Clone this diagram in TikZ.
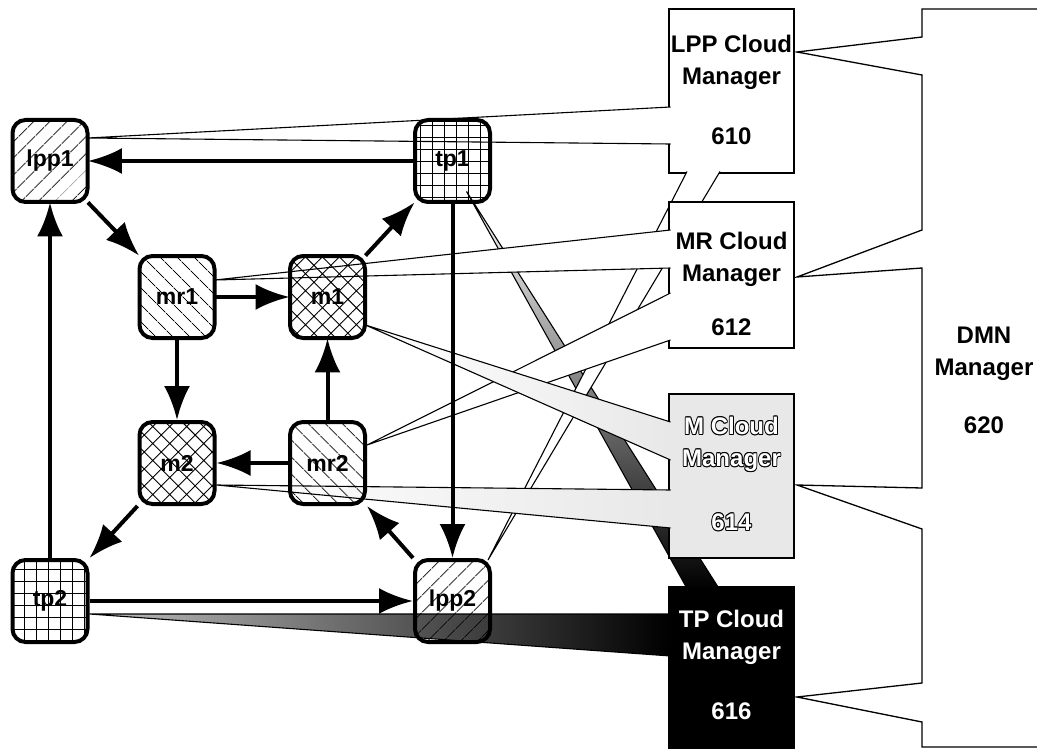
\documentclass[tikz,border=0pt]{standalone}
\usepackage{fontspec}
\setmainfont{Liberation Sans}
\usepackage{tikz}
\usetikzlibrary{arrows.meta}
\usetikzlibrary{patterns.meta}
\usetikzlibrary{calc}

\pgfdeclarelayer{front}
\pgfsetlayers{main,front}

% white letters with a black rim
\newcommand{\hollow}[1]{%
  \leavevmode
  \rlap{\hspace{-0.9pt}#1}\rlap{\hspace{0.9pt}#1}%
  \rlap{\raisebox{0.9pt}{#1}}\rlap{\raisebox{-0.9pt}{#1}}%
  \rlap{\hspace{-0.65pt}\raisebox{0.65pt}{#1}}\rlap{\hspace{0.65pt}\raisebox{0.65pt}{#1}}%
  \rlap{\hspace{-0.65pt}\raisebox{-0.65pt}{#1}}\rlap{\hspace{0.65pt}\raisebox{-0.65pt}{#1}}%
  \textcolor{white}{#1}}

\tikzset{
  vnode/.style={draw, line width=4pt, rounded corners=13pt,
                minimum width=75pt, minimum height=82pt, inner sep=0pt,
                font=\bfseries\fontsize{23}{23}\selectfont},
  lpphatch/.style={pattern={Lines[angle=45,distance=13pt,line width=0.9pt]}},
  mrhatch/.style={pattern={Lines[angle=-45,distance=13pt,line width=0.9pt]}},
  mhatch/.style={pattern={Hatch[angle=45,distance=12pt,line width=0.9pt]}},
  tphatch/.style={pattern={Hatch[angle=0,distance=12pt,line width=0.9pt]}},
  mgr/.style={draw, line width=1.3pt, minimum width=125pt,
              inner sep=0pt, outer sep=0pt},
  mgrtext/.style={align=center, inner sep=0pt,
                  font=\bfseries\fontsize{24}{32}\selectfont},
  band/.style={line width=1.1pt, line join=miter},
  flow/.style={line width=4pt, ->},
}

\begin{document}
\begin{tikzpicture}[
        >={Latex[length=34pt,width=26pt]}, thick,
        x=1pt, y=-1pt,
    ]
    \useasboundingbox (0,0) rectangle (1037,749);

    \begin{pgfonlayer}{front}
    \node[vnode, lpphatch] (lpp1) at (50,161) {lpp1};
    \node[vnode, tphatch] (tp1) at (452.5,161) {tp1};
    \node[vnode, mrhatch] (mr1) at (177,297) {mr1};
    \node[vnode, mhatch] (m1) at (327.5,297) {m1};
    \node[vnode, mhatch] (m2) at (177,463) {m2};
    \node[vnode, mrhatch] (mr2) at (327.5,463) {mr2};
    \node[vnode, tphatch] (tp2) at (50,601) {tp2};
    \node[vnode, lpphatch] (lpp2) at (452.5,601) {lpp2};

    \draw[flow] (tp1) -- (lpp1);
    \draw[flow] (lpp1.south east) -- (mr1.north west);
    \draw[flow] (mr1) -- (m1);
    \draw[flow] (m1.north east) -- (tp1.south west);
    \draw[flow] (mr1) -- (m2);
    \draw[flow] (mr2) -- (m1);
    \draw[flow] (mr2) -- (m2);
    \draw[flow] (m2.south west) -- (tp2.north east);
    \draw[flow] (tp2) -- (lpp1);
    \draw[flow] (tp2) -- (lpp2);
    \draw[flow] (tp1) -- (lpp2);
    \draw[flow] (lpp2.north west) -- (mr2.south east);
    \end{pgfonlayer}

    % DMN manager with its wedges
    \draw[line width=1.3pt] (1037,9) -- (922,9) -- (922,37) -- (797,52)
        -- (922,75) -- (922,230) -- (797,277) -- (922,268) -- (922,488)
        -- (797,485) -- (922,529) -- (922,683) -- (797,697) -- (922,722)
        -- (922,747) -- (1037,747);

    \node[mgr, fill=black, minimum height=175pt] (tpmgr) at (731.5,674.5) {};
    \draw[band, top color=white, middle color=black!80, bottom color=black]
        ($(tpmgr.north west)+(18,1.5)$) -- ($(tp1.south)+(14,-11)$)
        -- ($(tpmgr.north west)+(50,1.5)$);

    \node[mgr, fill=white, minimum height=164pt] (lppmgr) at (731.5,91) {};
    \draw[band, fill=white] ($(lppmgr.south west)+(18,-1.5)$)
        -- ($(lpp2.north east)+(-4,2)$) -- ($(lppmgr.south west)+(51,-1.5)$);

    \node[mgr, fill=white, minimum height=146pt] (mrmgr) at (731.5,275) {};
    \node[mgr, fill=gray!18, minimum height=164pt] (mmgr) at (731.5,476) {};

    \draw[band, fill=white] ($(lppmgr.north west)+(1.5,98)$)
        -- ($(lpp1.east)+(0,-23)$) -- ($(lppmgr.north west)+(1.5,135)$);
    \draw[band, fill=white] ($(mrmgr.north west)+(1.5,28)$)
        -- ($(mr1.east)+(0,-17)$) -- ($(mrmgr.north west)+(1.5,66)$);
    \draw[band, fill=white] ($(mrmgr.north west)+(1.5,91)$)
        -- ($(mr2.east)+(0,-18)$) -- ($(mrmgr.north west)+(1.5,138)$);
    \draw[band, left color=white, right color=gray!18]
        ($(mmgr.north west)+(1.5,28)$) -- ($(m1.east)+(0,28)$)
        -- ($(mmgr.north west)+(1.5,66)$);
    \draw[band, left color=white, right color=gray!18]
        ($(mmgr.north west)+(1.5,96)$) -- ($(m2.east)+(0,22)$)
        -- ($(mmgr.north west)+(1.5,134)$);
    \draw[band, left color=gray!50, right color=black]
        ($(tpmgr.north west)+(1.5,27)$) -- ($(tp2.east)+(0,13)$)
        -- ($(tpmgr.north west)+(1.5,69)$);

    \node[mgrtext] (lpptext) at (731.5,90) {LPP Cloud\\Manager\\[28pt]610};
    \node[mgrtext] (mrtext) at (731.5,284) {MR Cloud\\Manager\\[22pt]612};
    \node[mgrtext] (mtext) at (731.5,474)
        {\hollow{M Cloud}\\\hollow{Manager}\\[32pt]\hollow{614}};
    \node[mgrtext, text=white] (tptext) at (731.5,665)
        {TP Cloud\\Manager\\[28pt]616};
    \node[mgrtext] (dmn) at (984,380) {DMN\\Manager\\[26pt]620};

    \end{tikzpicture}
\end{document}
